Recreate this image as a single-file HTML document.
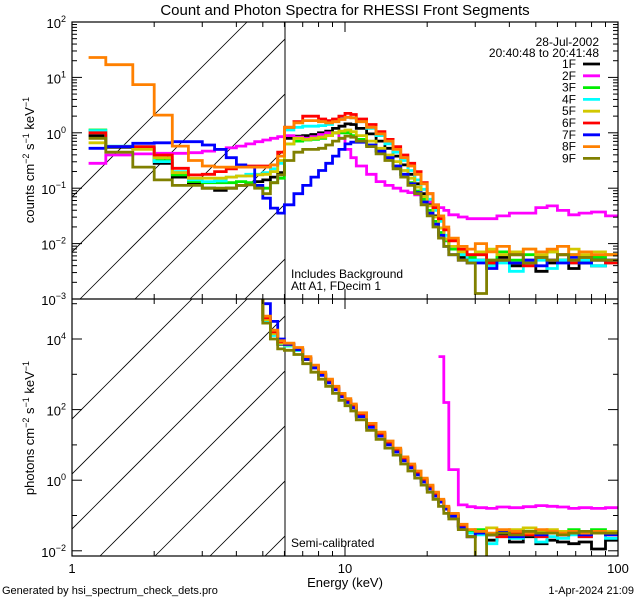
<!DOCTYPE html>
<html><head><meta charset="utf-8"><style>
html,body{margin:0;padding:0;background:#fff;}
svg{display:block;font-family:"Liberation Sans",sans-serif;}
</style></head><body>
<svg id="chart" width="640" height="600" viewBox="0 0 640 600" xmlns="http://www.w3.org/2000/svg">
<rect x="0" y="0" width="640" height="600" fill="#fff"/>
<text x="345" y="15" font-size="15" text-anchor="middle">Count and Photon Spectra for RHESSI Front Segments</text>
<defs>
<clipPath id="clipTop"><rect x="72" y="22" width="546" height="277"/></clipPath>
<clipPath id="clipBot"><rect x="72" y="299" width="546" height="257"/></clipPath>
<clipPath id="hatchTop"><rect x="72" y="22" width="213" height="277"/></clipPath>
<clipPath id="hatchBot"><rect x="72" y="299" width="213" height="257"/></clipPath>
</defs>
<g id="hatch"></g>
<g id="series"></g>
<g id="axes"></g>
<text transform="translate(34,160) rotate(-90)" font-size="13" text-anchor="middle">counts cm<tspan dy="-5" font-size="9">−2</tspan><tspan dy="5"> s</tspan><tspan dy="-5" font-size="9">−1</tspan><tspan dy="5"> keV</tspan><tspan dy="-5" font-size="9">−1</tspan></text>
<text transform="translate(34,428) rotate(-90)" font-size="13" text-anchor="middle">photons cm<tspan dy="-5" font-size="9">−2</tspan><tspan dy="5"> s</tspan><tspan dy="-5" font-size="9">−1</tspan><tspan dy="5"> keV</tspan><tspan dy="-5" font-size="9">−1</tspan></text>
<text x="345" y="587" font-size="13" text-anchor="middle">Energy (keV)</text>
<text x="2" y="594" font-size="11">Generated by hsi_spectrum_check_dets.pro</text>
<text x="634" y="594" font-size="11" text-anchor="end">1-Apr-2024 21:09</text>
<text x="291" y="278" font-size="12">Includes Background</text>
<text x="291" y="290" font-size="12">Att A1, FDecim 1</text>
<text x="291" y="547" font-size="12">Semi-calibrated</text>
<text x="599" y="46" font-size="12" text-anchor="end">28-Jul-2002</text>
<text x="599" y="57" font-size="12" text-anchor="end">20:40:48 to 20:41:48</text>
<g id="legend"></g>
</svg>
<script>
const edges = [1.15,1.33,1.67,2.0,2.33,2.67,3.0,3.33,3.67,4.0,4.33,4.67,5.0,5.33,5.67,6.0,6.5,7,7.5,8,8.5,9,9.5,10,10.5,11,12,13,14,15,16,17,18,19,20,21,22,23,24,26,28,30,33,36,40,45,50,55,60,66,72,80,90,100];
const detNames = ["1F","2F","3F","4F","5F","6F","7F","8F","9F"];
const detColors = ["#000000","#ff00ff","#00ee00","#00ffff","#d2c800","#ff0000","#0000ff","#ff8000","#808000"];
// log10 counts
const c1 = [-0.05,-0.26,-0.28,-0.55,-0.8,-0.92,-1.0,-1.04,-1.0,-0.95,-0.92,-0.88,-0.85,-0.8,-0.72,-0.1,-0.06,-0.05,-0.03,0.0,0.03,0.08,0.12,0.16,0.15,0.08,-0.02,-0.15,-0.28,-0.42,-0.58,-0.75,-0.92,-1.1,-1.3,-1.5,-1.72,-1.92,-2.1,-2.25,-2.3,-2.3,-2.35,-2.25,-2.4,-2.3,-2.5,-2.35,-2.3,-2.45,-2.35,-2.4,-2.3];
const c2 = [-0.55,-0.4,-0.38,-0.37,-0.37,-0.36,-0.33,-0.3,-0.27,-0.24,-0.2,-0.16,-0.13,-0.1,-0.07,-0.05,-0.08,-0.1,-0.07,-0.03,0.0,0.0,-0.1,-0.3,-0.45,-0.6,-0.75,-0.88,-0.95,-1.0,-1.05,-1.08,-1.12,-1.2,-1.25,-1.3,-1.35,-1.4,-1.48,-1.52,-1.55,-1.55,-1.55,-1.5,-1.45,-1.45,-1.35,-1.32,-1.4,-1.48,-1.45,-1.43,-1.5];
const c3 = [0.05,-0.25,-0.27,-0.5,-0.76,-0.88,-0.9,-0.9,-0.9,-0.88,-0.9,-0.98,-1.0,-0.9,-0.82,-0.2,-0.15,-0.13,-0.12,-0.1,-0.05,0.0,0.0,0.0,-0.05,-0.12,-0.22,-0.33,-0.45,-0.6,-0.75,-0.9,-1.05,-1.2,-1.4,-1.6,-1.8,-1.95,-2.1,-2.2,-2.25,-2.2,-2.3,-2.15,-2.3,-2.2,-2.25,-2.15,-2.3,-2.2,-2.3,-2.25,-2.2];
const c4 = [0.04,-0.24,-0.25,-0.52,-0.7,-0.85,-0.88,-0.87,-0.8,-0.78,-0.75,-0.75,-0.72,-0.65,-0.55,0.05,0.1,0.12,0.12,0.13,0.15,0.2,0.25,0.28,0.27,0.2,0.08,-0.05,-0.2,-0.35,-0.5,-0.68,-0.85,-1.02,-1.2,-1.4,-1.6,-1.85,-2.05,-2.2,-2.3,-2.3,-2.4,-2.35,-2.5,-2.35,-2.3,-2.45,-2.3,-2.35,-2.3,-2.4,-2.35];
const c5 = [-0.18,-0.25,-0.3,-0.45,-0.72,-0.82,-0.82,-0.82,-0.8,-0.78,-0.78,-0.76,-0.75,-0.7,-0.5,-0.2,-0.1,-0.12,-0.1,-0.08,-0.05,0.0,0.03,0.05,0.02,-0.05,-0.15,-0.28,-0.4,-0.52,-0.68,-0.82,-0.98,-1.15,-1.32,-1.52,-1.72,-1.92,-2.05,-2.15,-2.2,-2.15,-2.1,-2.2,-2.15,-2.1,-2.2,-2.15,-2.2,-2.1,-2.2,-2.15,-2.2];
const c6 = [0.0,-0.25,-0.25,-0.4,-0.64,-0.76,-0.75,-0.7,-0.65,-0.6,-0.6,-0.6,-0.6,-0.58,-0.35,0.1,0.2,0.3,0.3,0.25,0.22,0.25,0.3,0.35,0.33,0.25,0.15,0.02,-0.12,-0.25,-0.4,-0.55,-0.7,-0.9,-1.1,-1.35,-1.55,-1.75,-1.95,-2.1,-2.2,-2.2,-2.35,-2.3,-2.2,-2.4,-2.25,-2.3,-2.2,-2.35,-2.25,-2.3,-2.35];
const c7 = [-0.28,-0.25,-0.19,-0.18,-0.16,-0.16,-0.22,-0.3,-0.45,-0.58,-0.62,-0.95,-1.18,-1.36,-1.45,-1.3,-1.1,-0.95,-0.8,-0.68,-0.55,-0.42,-0.3,-0.2,-0.17,-0.17,-0.22,-0.33,-0.45,-0.6,-0.75,-0.92,-1.08,-1.25,-1.45,-1.65,-1.85,-2.05,-2.2,-2.3,-2.35,-2.35,-2.45,-2.3,-2.35,-2.3,-2.4,-2.3,-2.35,-2.25,-2.35,-2.3,-2.3];
const c8 = [1.36,1.23,0.87,0.32,-0.24,-0.5,-0.6,-0.62,-0.62,-0.62,-0.62,-0.62,-0.62,-0.58,-0.42,0.1,0.18,0.22,0.22,0.2,0.18,0.2,0.24,0.28,0.27,0.2,0.1,-0.02,-0.15,-0.3,-0.45,-0.6,-0.75,-0.92,-1.1,-1.3,-1.5,-1.7,-1.9,-2.05,-2.1,-2.0,-2.15,-2.05,-2.2,-2.1,-2.15,-2.1,-2.05,-2.2,-2.15,-2.2,-2.2];
const c9 = [-0.1,-0.35,-0.62,-0.85,-0.95,-0.95,-1.0,-1.0,-1.0,-0.95,-0.94,-1.0,-1.1,-0.9,-0.76,-0.5,-0.35,-0.3,-0.3,-0.28,-0.22,-0.15,-0.1,-0.06,-0.08,-0.15,-0.25,-0.38,-0.5,-0.65,-0.8,-0.95,-1.1,-1.3,-1.5,-1.7,-1.9,-2.05,-2.2,-2.3,-2.35,-2.9,-2.3,-2.3,-2.2,-2.35,-2.25,-2.3,-2.2,-2.3,-2.25,-2.3,-2.3];
// log10 photons, starting at bin index photonStart[k]
const photonStart = [11,36,11,11,11,11,11,11,11];
const p1 = [5.3,4.55,4.15,3.85,3.8,3.68,3.42,3.18,2.98,2.78,2.58,2.38,2.23,2.08,1.83,1.53,1.28,1.03,0.83,0.58,0.38,0.18,-0.02,-0.22,-0.42,-0.62,-0.82,-1.02,-1.3,-1.45,-1.5,-1.7,-1.55,-1.75,-1.6,-1.8,-1.7,-1.75,-1.8,-1.75,-1.95,-1.7];
const p2 = [3.5,2.2,0.3,-0.7,-0.75,-0.78,-0.8,-0.76,-0.78,-0.75,-0.72,-0.74,-0.76,-0.8,-0.78,-0.8,-0.78];
const p3 = [5.3,4.55,4.15,3.88,3.82,3.7,3.44,3.2,3.0,2.8,2.6,2.4,2.25,2.1,1.85,1.55,1.3,1.05,0.85,0.6,0.4,0.2,0.0,-0.2,-0.4,-0.6,-0.8,-1.0,-1.3,-1.45,-1.4,-1.55,-1.45,-1.5,-1.35,-1.5,-1.45,-1.5,-1.4,-1.5,-1.4,-1.45];
const p4 = [5.3,4.5,4.1,3.86,3.8,3.68,3.43,3.2,2.98,2.78,2.58,2.38,2.24,2.08,1.84,1.54,1.28,1.04,0.84,0.58,0.38,0.18,-0.02,-0.22,-0.42,-0.62,-0.82,-1.02,-1.3,-1.5,-1.55,-1.8,-1.6,-1.65,-1.55,-1.75,-1.6,-1.65,-1.55,-1.6,-1.5,-1.65];
const p5 = [5.3,4.55,4.15,3.88,3.83,3.7,3.45,3.22,3.01,2.81,2.61,2.41,2.26,2.11,1.86,1.56,1.31,1.06,0.86,0.62,0.42,0.22,0.02,-0.18,-0.38,-0.58,-0.78,-0.98,-1.28,-1.4,-1.45,-1.35,-1.5,-1.4,-1.35,-1.45,-1.4,-1.45,-1.5,-1.45,-1.5,-1.45];
const p6 = [5.3,4.6,4.2,3.92,3.85,3.72,3.46,3.22,3.02,2.82,2.62,2.42,2.27,2.12,1.87,1.57,1.32,1.07,0.87,0.62,0.42,0.22,0.02,-0.18,-0.38,-0.58,-0.78,-0.98,-1.28,-1.6,-1.5,-1.55,-1.6,-1.5,-1.55,-1.6,-1.5,-1.55,-1.5,-1.6,-1.5,-1.55];
const p7 = [5.6,5.0,4.5,4.0,3.85,3.7,3.43,3.18,2.97,2.76,2.56,2.36,2.2,2.05,1.8,1.5,1.25,1.0,0.8,0.55,0.35,0.15,-0.05,-0.25,-0.45,-0.62,-0.82,-1.02,-1.35,-1.6,-1.5,-1.55,-1.45,-1.6,-1.5,-1.55,-1.5,-1.55,-1.5,-1.55,-1.5,-1.55];
const p8 = [5.35,4.65,4.25,3.95,3.88,3.76,3.5,3.26,3.06,2.86,2.66,2.46,2.31,2.16,1.91,1.61,1.36,1.11,0.91,0.66,0.46,0.26,0.06,-0.14,-0.34,-0.54,-0.74,-0.94,-1.25,-1.4,-1.45,-1.5,-1.4,-1.45,-1.5,-1.4,-1.45,-1.5,-1.45,-1.5,-1.45,-1.5];
const p9 = [5.2,4.45,4.0,3.72,3.68,3.56,3.3,3.06,2.86,2.66,2.46,2.26,2.11,1.96,1.71,1.41,1.16,0.91,0.71,0.46,0.26,0.06,-0.14,-0.34,-0.54,-0.74,-0.94,-1.1,-1.4,-1.6,-2.3,-1.55,-1.5,-1.55,-1.45,-1.5,-1.5,-1.55,-1.5,-1.45,-1.5,-1.5];
const countSeries = [c1,c2,c3,c4,c5,c6,c7,c8,c9];
const photonSeries = [p1,p2,p3,p4,p5,p6,p7,p8,p9];
const topTicks = [2,1,0,-1,-2,-3];
const botTicks = [4,2,0,-2];

const NS = "http://www.w3.org/2000/svg";
const X0 = 72, X1 = 618;
const xs = e => X0 + (X1 - X0) * Math.log10(e) / 2;
const yTop = v => 22 + (2 - v) * 55.4;
const yBot = v => 339 - (v - 4) * 35.3;
function mk(tag, attrs, parent){ const el=document.createElementNS(NS,tag); for(const k in attrs) el.setAttribute(k,attrs[k]); parent.appendChild(el); return el; }

// hatch
const hatch = document.getElementById('hatch');
const hT = mk('g',{'clip-path':'url(#hatchTop)'},hatch);
for(let k=-2;k<8;k++){ const x0=135+55*k-55; mk('line',{x1:x0,y1:299,x2:x0+300,y2:-1,stroke:'#000','stroke-width':0.8},hT); }
const hB = mk('g',{'clip-path':'url(#hatchBot)'},hatch);
for(let k=-2;k<8;k++){ const x0=100+55*k-55; mk('line',{x1:x0,y1:556,x2:x0+300,y2:256,stroke:'#000','stroke-width':0.8},hB); }
mk('line',{x1:285,y1:22,x2:285,y2:556,stroke:'#000','stroke-width':1},hatch);

// series
const sg = document.getElementById('series');
const gT = mk('g',{'clip-path':'url(#clipTop)'},sg);
const gB = mk('g',{'clip-path':'url(#clipBot)'},sg);
function stepPath(vals, start, yf){
  let d='';
  vals.forEach((v,i)=>{ const b=start+i; const xa=xs(edges[b]), xb=xs(edges[b+1]), y=yf(v);
    d += (i===0?'M':'L')+xa.toFixed(1)+' '+y.toFixed(1)+' L'+xb.toFixed(1)+' '+y.toFixed(1)+' '; });
  return d;
}
countSeries.forEach((vals,k)=>{
  const p = mk('path',{d:stepPath(vals,0,yTop),fill:'none',stroke:detColors[k],'stroke-width':2.8,'stroke-linejoin':'miter'},gT);
  
  
});
photonSeries.forEach((vals,k)=>{
  const p = mk('path',{d:stepPath(vals,photonStart[k],yBot),fill:'none',stroke:detColors[k],'stroke-width':2.8},gB);
  
  
});

// axes
const ax = document.getElementById('axes');
mk('rect',{x:72,y:22,width:546,height:534,fill:'none',stroke:'#000','stroke-width':1.2},ax);
mk('line',{x1:72,y1:299,x2:618,y2:299,stroke:'#000','stroke-width':1.2},ax);
for(let dec=0;dec<2;dec++) for(let m=1;m<=10;m++){
  const e=Math.pow(10,dec)*m; if(dec===1&&m===10) continue; const x=xs(e); const L=(m===1||m===10)?10:5;
  if(m===10) continue;
  [[22,1],[299,-1],[299,1],[556,-1]].forEach(([y,s])=>mk('line',{x1:x,y1:y,x2:x,y2:y+s*L,stroke:'#000'},ax));
}
[[1,'1'],[10,'10'],[100,'100']].forEach(([e,t])=>{ const tx=mk('text',{x:xs(e),y:573,'font-size':13,'text-anchor':'middle'},ax); tx.textContent=t;
  
   });
for(let d=-3; d<2; d++) for(let m=1;m<10;m++){
  const y=yTop(d+Math.log10(m)); const L=m===1?10:5;
  mk('line',{x1:72,y1:y,x2:72+L,y2:y,stroke:'#000'},ax); mk('line',{x1:618,y1:y,x2:618-L,y2:y,stroke:'#000'},ax);
}
mk('line',{x1:72,y1:22,x2:82,y2:22,stroke:'#000'},ax);
topTicks.forEach(v=>{ const t=mk('text',{x:66,y:yTop(v)+6,'font-size':13,'text-anchor':'end'},ax);
  
  
  t.innerHTML='10<tspan dy="-6" font-size="9">'+(v<0?'−'+(-v):v)+'</tspan>'; });
for(let d=-2; d<=5; d++){ const y=yBot(d); if(y<299||y>556) continue; const L=(d%2===0)?10:5;
  mk('line',{x1:72,y1:y,x2:72+L,y2:y,stroke:'#000'},ax); mk('line',{x1:618,y1:y,x2:618-L,y2:y,stroke:'#000'},ax); }
botTicks.forEach(v=>{ const t=mk('text',{x:66,y:yBot(v)+6,'font-size':13,'text-anchor':'end'},ax);
  
  
  t.innerHTML='10<tspan dy="-6" font-size="9">'+(v<0?'−'+(-v):v)+'</tspan>'; });

// legend
const lg = document.getElementById('legend');
detNames.forEach((n,k)=>{ const y=64+11.8*k;
  const g=mk('g',{},lg);
  
  
  const t=mk('text',{x:576,y:y+4,'font-size':12,'text-anchor':'end'},g); t.textContent=n;
  mk('line',{x1:583,y1:y,x2:600,y2:y,stroke:detColors[k],'stroke-width':2.8},g);
});
</script>
</body></html>
